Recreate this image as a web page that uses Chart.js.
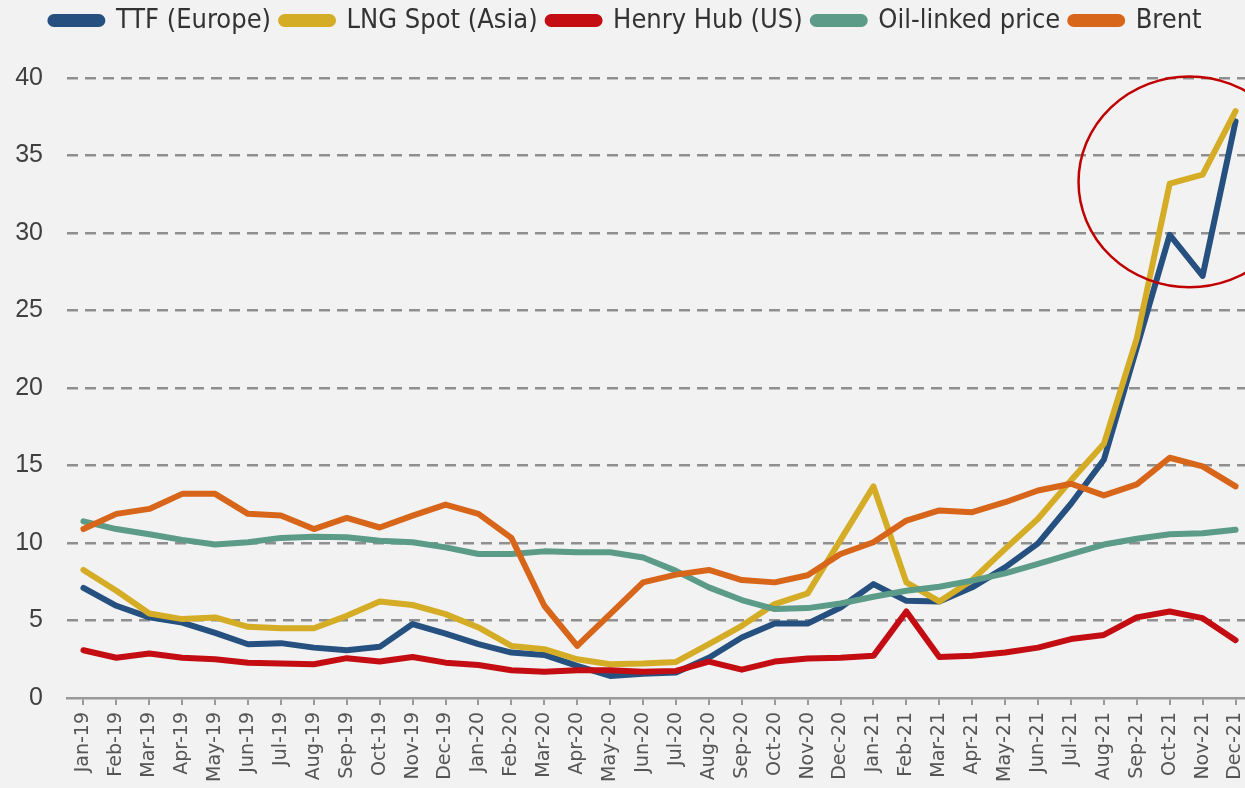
<!DOCTYPE html>
<html lang="en">
<head>
  <meta charset="UTF-8" />
  <title>Gas prices 2019-2021</title>
  <script src="https://cdn.jsdelivr.net/npm/chart.js@4"></script>
  <style>
    html, body { margin: 0; padding: 0; background: #f2f2f2; overflow: hidden; }
    canvas { display: block; }
  </style>
</head>
<body>
  <canvas id="prices-chart" width="1252" height="788"></canvas>

  <script>
    const months = ['Jan-19','Feb-19','Mar-19','Apr-19','May-19','Jun-19','Jul-19','Aug-19','Sep-19','Oct-19','Nov-19','Dec-19',
                    'Jan-20','Feb-20','Mar-20','Apr-20','May-20','Jun-20','Jul-20','Aug-20','Sep-20','Oct-20','Nov-20','Dec-20',
                    'Jan-21','Feb-21','Mar-21','Apr-21','May-21','Jun-21','Jul-21','Aug-21','Sep-21','Oct-21','Nov-21','Dec-21'];

    const ttf = [7.1, 5.95, 5.2, 4.87, 4.2, 3.47, 3.54, 3.25, 3.08, 3.3, 4.77, 4.15,
                 3.47, 2.93, 2.78, 2.07, 1.42, 1.57, 1.64, 2.6, 3.9, 4.8, 4.8, 5.84,
                 7.35, 6.27, 6.23, 7.14, 8.43, 9.98, 12.53, 15.37, 22.6, 29.88, 27.23, 37.2];
    const lngAsia = [8.26, 6.92, 5.45, 5.09, 5.2, 4.59, 4.5, 4.5, 5.3, 6.23, 6.0, 5.41,
                     4.55, 3.36, 3.15, 2.5, 2.18, 2.22, 2.33, 3.47, 4.66, 6.06, 6.75, 10.2,
                     13.65, 7.46, 6.23, 7.61, 9.62, 11.56, 14.04, 16.4, 23.2, 33.18, 33.76, 37.86];
    const henryHub = [3.08, 2.6, 2.87, 2.6, 2.5, 2.28, 2.22, 2.18, 2.57, 2.35, 2.65, 2.28,
                      2.13, 1.79, 1.7, 1.79, 1.79, 1.7, 1.75, 2.35, 1.83, 2.35, 2.55, 2.6,
                      2.72, 5.58, 2.65, 2.72, 2.93, 3.25, 3.8, 4.07, 5.2, 5.58, 5.15, 3.73];
    const oilLinked = [11.4, 10.9, 10.57, 10.2, 9.9, 10.05, 10.33, 10.4, 10.37, 10.15, 10.05, 9.72,
                       9.29, 9.29, 9.46, 9.4, 9.4, 9.07, 8.2, 7.14, 6.32, 5.74, 5.8, 6.1,
                       6.53, 6.92, 7.18, 7.57, 8.04, 8.65, 9.29, 9.9, 10.27, 10.57, 10.63, 10.85];
    const brent = [10.9, 11.88, 12.2, 13.17, 13.17, 11.88, 11.77, 10.9, 11.62, 11.0, 11.77, 12.48,
                   11.88, 10.33, 5.95, 3.36, 5.41, 7.46, 7.96, 8.26, 7.61, 7.46, 7.92, 9.29,
                   10.05, 11.45, 12.1, 11.99, 12.63, 13.39, 13.82, 13.07, 13.78, 15.5, 14.94, 13.65];

    const yTicks = [0, 5, 10, 15, 20, 25, 30, 35, 40];

    // red ring around the last quarter (category index / price units)
    const ring = { x: 33.6, y: 33.3, rx: 3.37, ry: 6.8 };

    const series = [
      { label: 'TTF (Europe)', data: ttf, color: '#25507f' },
      { label: 'LNG Spot (Asia)', data: lngAsia, color: '#d4ac25' },
      { label: 'Henry Hub (US)', data: henryHub, color: '#c30d12' },
      { label: 'Oil-linked price', data: oilLinked, color: '#5b9b87' },
      { label: 'Brent', data: brent, color: '#d8661a' }
    ];

    // force plot area edges like the original
    const legendHeight = {
      id: 'legendHeight',
      beforeInit(chart) {
        const fit = chart.legend.fit;
        chart.legend.fit = function () {
          fit.bind(chart.legend)();
          this.height = 81;
        };
      }
    };

    const ringPlugin = {
      id: 'ring',
      afterDatasetsDraw(chart) {
        const { ctx, scales: { x, y } } = chart;
        const cx = x.getPixelForValue(ring.x);
        const cy = y.getPixelForValue(ring.y);
        const rx = Math.abs(x.getPixelForValue(ring.x + ring.rx) - cx);
        const ry = Math.abs(y.getPixelForValue(ring.y + ring.ry) - cy);
        ctx.save();
        ctx.beginPath();
        ctx.ellipse(cx, cy, rx, ry, 0, 0, Math.PI * 2);
        ctx.strokeStyle = '#c00000';
        ctx.lineWidth = 2.5;
        ctx.stroke();
        ctx.restore();
      }
    };

    new Chart(document.getElementById('prices-chart'), {
      type: 'line',
      data: {
        labels: months,
        datasets: series.map((s, i) => ({
          label: s.label,
          data: s.data,
          borderColor: s.color,
          backgroundColor: s.color,
          borderWidth: 6,
          pointRadius: 0,
          tension: 0,
          borderCapStyle: 'round',
          borderJoinStyle: 'round',
          order: series.length - i
        }))
      },
      options: {
        responsive: false,
        animation: false,
        layout: { padding: { top: -3, left: 0, right: 0, bottom: 0 } },
        plugins: {
          tooltip: { enabled: false },
          legend: {
            position: 'top',
            labels: {
              boxWidth: 52,
              boxHeight: 7,
              useBorderRadius: true,
              borderRadius: 3.5,
              padding: 10,
              color: '#333',
              font: { family: "'DejaVu Sans Condensed', 'DejaVu Sans', sans-serif", size: 27 },
              sort: (a, b) => a.datasetIndex - b.datasetIndex
            }
          }
        },
        scales: {
          x: {
            offset: true,
            afterFit: s => { s.height = 90; s.paddingLeft = 0; s.paddingRight = 0; },
            grid: { drawOnChartArea: false, drawTicks: true, tickLength: 7, color: '#999', lineWidth: 2 },
            border: { display: true, color: '#999', width: 2.5 },
            ticks: {
              autoSkip: false,
              minRotation: 90,
              maxRotation: 90,
              padding: 7,
              color: '#555',
              font: { family: "'DejaVu Sans', sans-serif", size: 19 }
            }
          },
          y: {
            min: 0,
            max: 40,
            afterFit: s => { s.width = 67; },
            afterBuildTicks: s => { s.ticks = yTicks.map(v => ({ value: v })); },
            grid: {
              drawTicks: false,
              color: c => (c.tick && c.tick.value === 0 ? 'rgba(0,0,0,0)' : '#8f8f8f'),
              lineWidth: 2.5
            },
            border: { display: false, dash: [11, 7] },
            ticks: {
              padding: 24,
              color: '#404040',
              font: { family: "'Liberation Sans', sans-serif", size: 25 }
            }
          }
        }
      },
      plugins: [legendHeight, ringPlugin]
    });
  </script>
</body>
</html>
